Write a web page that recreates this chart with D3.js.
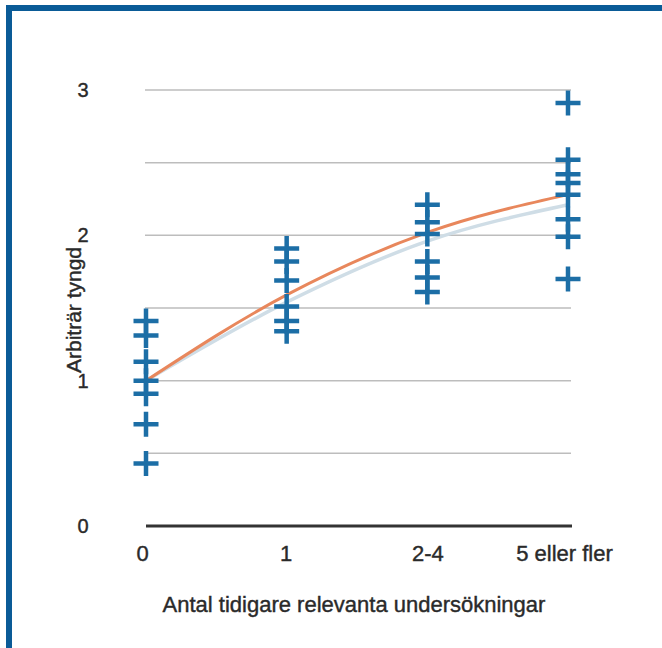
<!DOCTYPE html>
<html><head><meta charset="utf-8">
<script src="https://cdn.jsdelivr.net/npm/d3@7"></script>
<style>html,body{margin:0;padding:0;background:#fff;}svg{display:block;}</style>
</head><body>
<svg id="chart" width="662" height="648"></svg>
<script>
const categories = ["0", "1", "2-4", "5 eller fler"];
const yTicks = [0, 1, 2, 3];
const gridValues = [0.5, 1, 1.5, 2, 2.5, 3];
const obs0 = [1.41, 1.31, 1.13, 1.0, 0.91, 0.70, 0.43];
const obs1 = [1.91, 1.82, 1.69, 1.51, 1.41, 1.34];
const obs2 = [2.21, 2.09, 2.01, 1.82, 1.71, 1.61];
const obs3 = [2.91, 2.52, 2.42, 2.36, 2.28, 2.11, 1.99, 1.70];
const fitValues = [1.0, 1.59, 2.02, 2.28];
const shadowValues = [1.0, 1.54, 1.96, 2.21];
const xTitle = "Antal tidigare relevanta undersökningar";
const yTitle = "Arbiträr tyngd";

const svg = d3.select("#chart");
const font = "'Liberation Sans', Arial, Helvetica, sans-serif";
const txt = "#2a2a2a";

// frame
svg.append("rect").attr("x", 9).attr("y", 8).attr("width", 700).attr("height", 700)
  .attr("fill", "none").attr("stroke", "#0a5b97").attr("stroke-width", 6);

const x = d3.scalePoint().domain(categories).range([146, 568]);
const y = d3.scaleLinear().domain([0, 3]).range([526, 90]);

// gridlines
svg.append("g").selectAll("line").data(gridValues).join("line")
  .attr("x1", 145).attr("x2", 571)
  .attr("y1", d => y(d)).attr("y2", d => y(d))
  .attr("stroke", "#bdbdbd").attr("stroke-width", 1.5);

// baseline
svg.append("line").attr("x1", 146).attr("x2", 572).attr("y1", y(0)).attr("y2", y(0))
  .attr("stroke", "#333").attr("stroke-width", 3);

// y axis ticks via d3 axis
const yAxis = svg.append("g").attr("transform", "translate(96,0)")
  .call(d3.axisLeft(y).tickValues(yTicks).tickFormat(d3.format("d")).tickSize(0).tickPadding(8));
yAxis.select(".domain").remove();
yAxis.selectAll("text").attr("font-family", font).attr("font-size", 20)
  .attr("fill", txt).attr("stroke", txt).attr("stroke-width", 0.4)
  .attr("text-anchor", "middle").attr("x", -13);

// x axis labels
const xAxis = svg.append("g").attr("transform", "translate(0,537)")
  .call(d3.axisBottom(x).tickSize(0).tickPadding(8));
xAxis.select(".domain").remove();
xAxis.selectAll("text").attr("font-family", font).attr("font-size", 22)
  .attr("fill", txt).attr("stroke", txt).attr("stroke-width", 0.4);
xAxis.selectAll(".tick").filter(d => d === "0").select("text").attr("dx", -4);
xAxis.selectAll(".tick").filter(d => d === "1").select("text").attr("dx", -1);
xAxis.selectAll(".tick").filter(d => d === "5 eller fler").select("text").attr("dx", -4);

// curves
const line = d3.line().x((d, i) => x(categories[i])).y(d => y(d)).curve(d3.curveMonotoneX);
svg.append("path").attr("d", line(shadowValues)).attr("fill", "none")
  .attr("stroke", "#cfdde6").attr("stroke-width", 3.5);
svg.append("path").attr("d", line(fitValues)).attr("fill", "none")
  .attr("stroke", "#e8875c").attr("stroke-width", 3);

// crosses
const groups = [obs0, obs1, obs2, obs3];
const pts = [];
groups.forEach((arr, i) => arr.forEach(v => pts.push({c: categories[i], v})));
const arm = 12.5;
const cross = svg.append("g").attr("stroke", "#1c6ea6").attr("stroke-width", 4.5).attr("fill", "none");
cross.selectAll("path").data(pts).join("path")
  .attr("d", d => {
    const cx = x(d.c), cy = y(d.v);
    return `M${cx - arm},${cy}H${cx + arm}M${cx},${cy - arm}V${cy + arm}`;
  });

// titles
svg.append("text").attr("x", 354).attr("y", 612).attr("text-anchor", "middle")
  .attr("font-family", font).attr("font-size", 22).attr("fill", txt)
  .attr("stroke", txt).attr("stroke-width", 0.4).text(xTitle);
svg.append("text").attr("transform", "translate(81,310) rotate(-90)").attr("text-anchor", "middle")
  .attr("font-family", font).attr("font-size", 21).attr("fill", txt)
  .attr("stroke", txt).attr("stroke-width", 0.4).text(yTitle);
</script>
</body></html>
